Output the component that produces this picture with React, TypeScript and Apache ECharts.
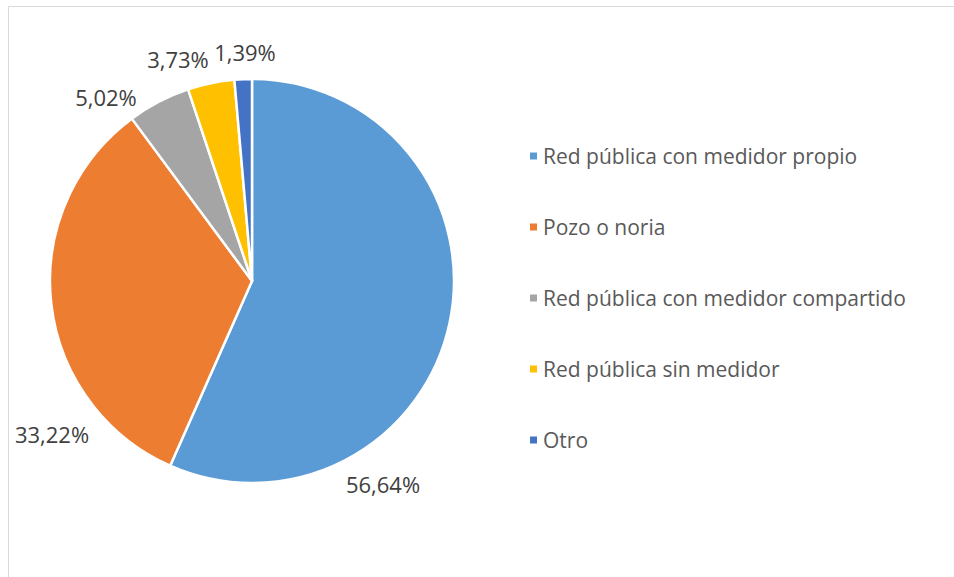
import React, { useEffect, useRef } from "react";
import * as echarts from "echarts";

const categories = [
  "Red pública con medidor propio",
  "Pozo o noria",
  "Red pública con medidor compartido",
  "Red pública sin medidor",
  "Otro",
];
const values = [56.64, 33.22, 5.02, 3.73, 1.39];
const colors = ["#5B9BD5", "#ED7D31", "#A5A5A5", "#FFC000", "#4472C4"];

// label anchor points (Excel best-fit placement)
const labelAnchors: [number, number][] = [
  [383, 484],
  [52, 434],
  [106, 97],
  [178, 59],
  [245, 52],
];

const FONT = "'Open Sans', 'Noto Sans', sans-serif";

export default function App() {
  const ref = useRef<HTMLDivElement>(null);
  useEffect(() => {
    if (!ref.current) return;
    const chart = echarts.init(ref.current, undefined, { renderer: "svg" });
    chart.setOption({
      animation: false,
      backgroundColor: "#ffffff",
      graphic: [
        {
          type: "rect",
          shape: { x: 8.5, y: 6.5, width: 980, height: 600 },
          style: { fill: "none", stroke: "#d9d9d9", lineWidth: 1 },
          silent: true,
        },
      ],
      legend: {
        orient: "vertical",
        left: 523,
        top: 139,
        itemWidth: 9,
        itemHeight: 9,
        itemGap: 47,
        icon: "rect",
        data: categories,
        textStyle: {
          fontFamily: FONT,
          fontSize: 21,
          lineHeight: 24,
          color: "#595959",
          padding: [0, 0, 0, 0],
        },
      },
      series: [
        {
          type: "pie",
          center: [252, 281],
          radius: 202,
          startAngle: 90,
          clockwise: true,
          itemStyle: { borderColor: "#ffffff", borderWidth: 2.5 },
          label: {
            show: true,
            position: "outside",
            fontFamily: FONT,
            fontSize: 22,
            color: "#404040",
            width: 110,
            overflow: "none",
            align: "center",
            formatter: (p: any) => p.value.toFixed(2).replace(".", ",") + "%",
          },
          labelLine: { show: false },
          labelLayout: (params: any) => {
            const a = labelAnchors[params.dataIndex];
            return { x: a[0], y: a[1], align: "center", verticalAlign: "middle" };
          },
          data: categories.map((name, i) => ({
            name,
            value: values[i],
            itemStyle: { color: colors[i] },
          })),
        },
      ],
    });
    return () => chart.dispose();
  }, []);
  return (
    <div
      ref={ref}
      style={{ position: "absolute", left: 0, top: 0, width: 954, height: 577 }}
    />
  );
}
